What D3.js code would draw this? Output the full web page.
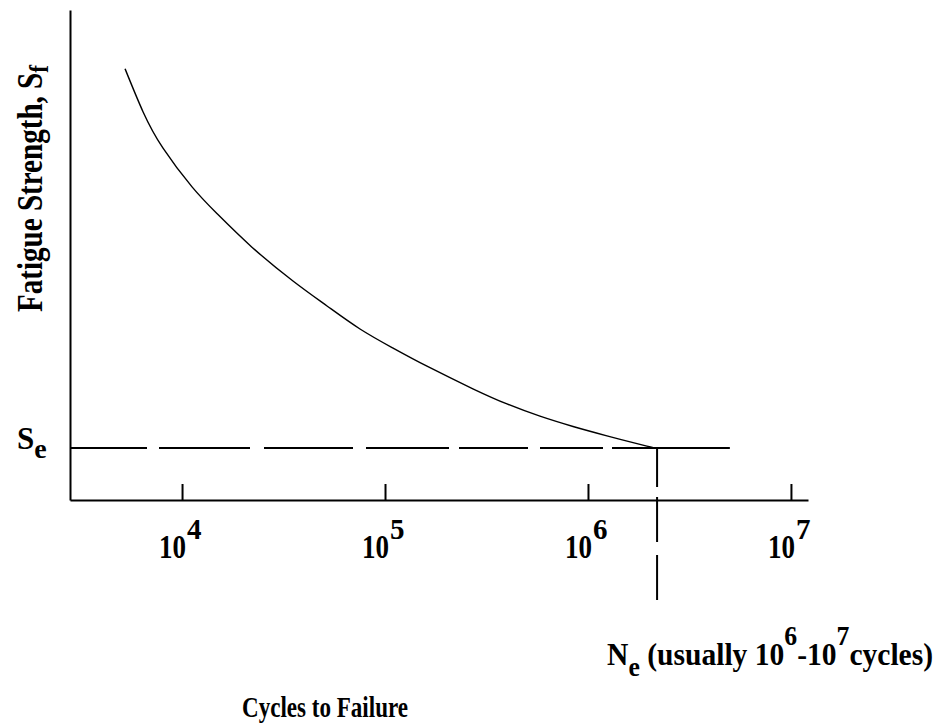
<!DOCTYPE html>
<html>
<head>
<meta charset="utf-8">
<script src="https://cdn.jsdelivr.net/npm/d3@7/dist/d3.min.js"></script>
<style>
  html, body { margin: 0; padding: 0; background: #fff; }
  svg { display: block; }
  text { font-family: "Liberation Serif", "Times New Roman", serif; fill: #000; }
</style>
</head>
<body>
<svg id="chart" width="940" height="724"></svg>
<script>
// ---- data ----
const tickExponents = [4, 5, 6, 7];
const tickBase = "10";
const curveCycles   = [5240, 6430, 8060, 11200, 14900, 22100, 35200, 51800, 75300,
                       109500, 161000, 271000, 399000, 580000, 844000, 1240000, 1950000, 2190000];
const curveStrength = [88.0, 79.2, 71.8, 63.9, 58.4, 51.6, 44.7, 39.6, 34.9,
                       31.0, 27.3, 22.7, 19.6, 17.1, 15.0, 13.1, 11.0, 10.6];
const enduranceStrength = 10.6;     // Se
const enduranceCycles = 2190000;    // Ne
const limitLineEndCycles = 5000000;
const neDropStrength = -20.4;       // where the Ne guide ends below the axis
const xDomain = [Math.pow(10, 3.448), Math.pow(10, 7.084)];
const yDomain = [0, 100];

const svg = d3.select("#chart");
const x = d3.scaleLog().domain(xDomain).range([70, 808]);
const y = d3.scaleLinear().domain(yDomain).range([500, 10]);

// x axis (ticks pointing up)
const xAxis = d3.axisBottom(x)
  .tickValues(tickExponents.map(e => Math.pow(10, e)))
  .tickSizeInner(-16).tickSizeOuter(0).tickFormat("");
const gx = svg.append("g").attr("transform", `translate(0,${y(0)})`).call(xAxis);
gx.selectAll("path, line").attr("stroke", "#000").attr("stroke-width", 2);

// y axis (no ticks)
const yAxis = d3.axisLeft(y).tickValues([]).tickSizeOuter(0);
const gy = svg.append("g").attr("transform", `translate(${x(xDomain[0])},0)`).call(yAxis);
gy.selectAll("path").attr("stroke", "#000").attr("stroke-width", 2);

// tick labels 10^k
tickExponents.forEach(e => {
  const tx = x(Math.pow(10, e)) + 4;
  const g = svg.append("g").attr("transform", `translate(${tx},558)`);
  g.append("text").attr("text-anchor", "end").attr("font-size", 33).attr("font-weight", "bold")
    .attr("textLength", 27).attr("lengthAdjust", "spacingAndGlyphs").text(tickBase);
  g.append("text").attr("x", 1).attr("y", -19).attr("font-size", 29).attr("font-weight", "bold")
    .text(String(e));
});

// endurance limit line (dashed then solid)
svg.append("path")
  .attr("d", d3.line()([[x(xDomain[0]), y(enduranceStrength)], [x(limitLineEndCycles), y(enduranceStrength)]]))
  .attr("stroke", "#000").attr("stroke-width", 2).attr("fill", "none")
  .attr("stroke-dasharray", "77,12,91,14,89,13,83,10,69,12,63,9,400");

// vertical Ne guide
svg.append("path")
  .attr("d", d3.line()([[x(enduranceCycles), y(enduranceStrength)], [x(enduranceCycles), y(neDropStrength)]]))
  .attr("stroke", "#000").attr("stroke-width", 2).attr("fill", "none")
  .attr("stroke-dasharray", "39,10,45,13,45");

// S-N curve
const pts = curveCycles.map((c, i) => [x(c), y(curveStrength[i])]);
svg.append("path")
  .attr("d", d3.line().curve(d3.curveNatural)(pts))
  .attr("stroke", "#000").attr("stroke-width", 1.4).attr("fill", "none");

// Se label
const se = svg.append("text").attr("x", 17).attr("y", 449).attr("font-weight", "bold").attr("font-size", 31);
se.append("tspan").text("S");
se.append("tspan").attr("font-size", 28).attr("dy", 9).text("e");

// y axis title
const yt = svg.append("text")
  .attr("transform", "translate(42,312) rotate(-90)")
  .attr("font-weight", "bold").attr("font-size", 35)
  .attr("textLength", 247).attr("lengthAdjust", "spacingAndGlyphs");
yt.append("tspan").text("Fatigue Strength, S");
yt.append("tspan").attr("font-size", 28).attr("dy", 6).text("f");

// Ne label
const ne = svg.append("text").attr("x", x(enduranceCycles) - 50).attr("y", 665)
  .attr("font-weight", "bold").attr("font-size", 31)
  .attr("textLength", 326).attr("lengthAdjust", "spacingAndGlyphs");
ne.append("tspan").text("N");
ne.append("tspan").attr("font-size", 27).attr("dy", 11).text("e");
ne.append("tspan").attr("dy", -11).text(" (usually 10");
ne.append("tspan").attr("font-size", 27).attr("dy", -20).text("6");
ne.append("tspan").attr("dy", 20).text("-10");
ne.append("tspan").attr("font-size", 27).attr("dy", -20).text("7");
ne.append("tspan").attr("dy", 20).text("cycles)");

// x axis title
svg.append("text").attr("x", 242).attr("y", 717)
  .attr("font-weight", "bold").attr("font-size", 29)
  .attr("textLength", 166).attr("lengthAdjust", "spacingAndGlyphs")
  .text("Cycles to Failure");
</script>
</body>
</html>
